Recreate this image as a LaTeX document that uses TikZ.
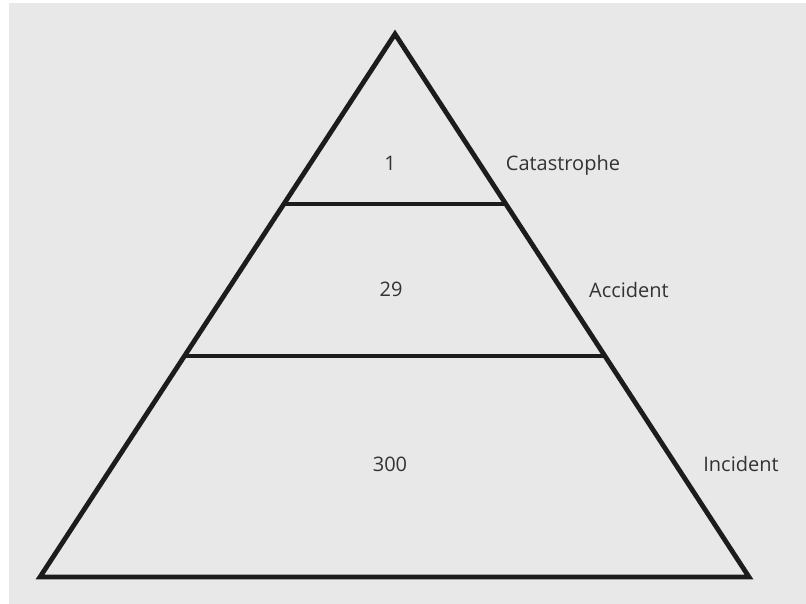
\documentclass[tikz,border=0pt]{standalone}
\usepackage{fontspec}
\setmainfont{Open Sans}
\usetikzlibrary{calc}
\definecolor{bggray}{HTML}{E8E8E8}
\definecolor{ink}{HTML}{1C1C1C}
\begin{document}
\begin{tikzpicture}[x=1pt,y=-1pt,
  edge/.style={draw=ink,line width=4.8pt,line join=miter},
  lbl/.style={anchor=base,inner sep=0pt,font=\fontsize{20}{24}\selectfont,text=ink!90}]
\useasboundingbox[fill=white] (0,0) rectangle (806,604);
\fill[bggray] (9,3) rectangle (806,604);
\coordinate (apex) at (395,34);
\coordinate (bl) at (40,577);
\coordinate (br) at (749,577);
\coordinate (l1) at ($(apex)!0.313!(bl)$);
\coordinate (r1) at ($(apex)!0.313!(br)$);
\coordinate (l2) at ($(apex)!0.593!(bl)$);
\coordinate (r2) at ($(apex)!0.593!(br)$);
\draw[edge] (apex) -- (bl) -- (br) -- cycle;
\draw[edge] (l1) -- (r1);
\draw[edge] (l2) -- (r2);
\node[lbl] (n1) at (390,171) {1};
\node[lbl] (n29) at (391,296) {29};
\node[lbl] (n300) at (390,471) {300};
\node[lbl] (cat) at (563,171) {Catastrophe};
\node[lbl] (acc) at (629,297) {Accident};
\node[lbl] (inc) at (741,471) {Incident};
\end{tikzpicture}
\end{document}
